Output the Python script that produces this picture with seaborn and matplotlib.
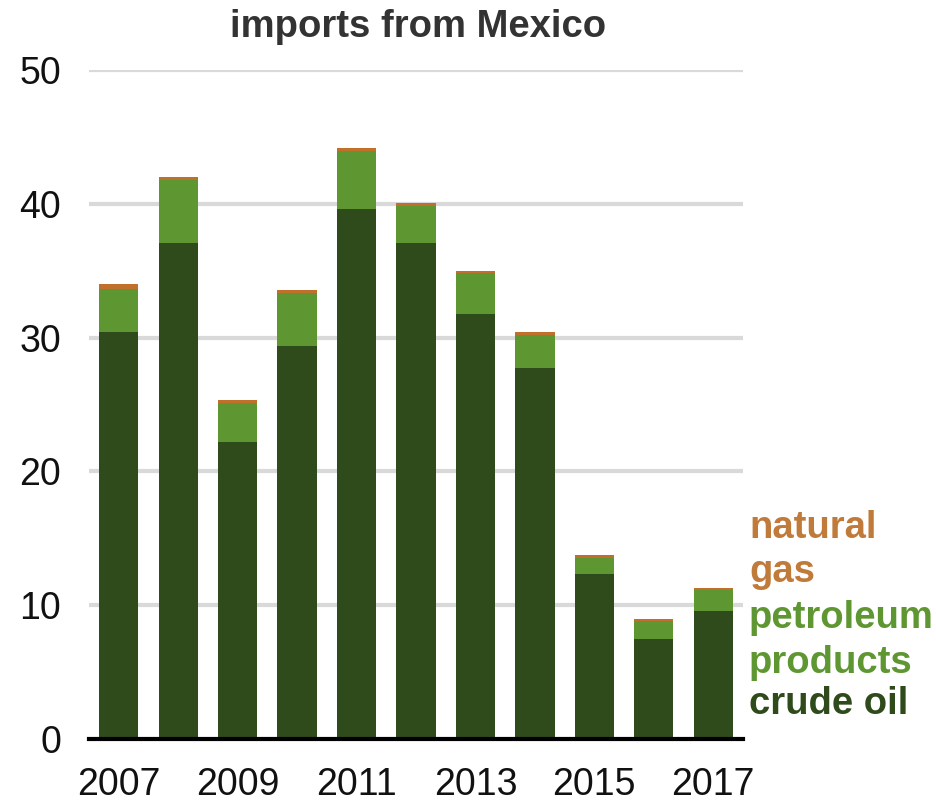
import matplotlib
matplotlib.use("Agg")
import matplotlib.pyplot as plt
import seaborn as sns
import pandas as pd
import numpy as np

years = [2007, 2008, 2009, 2010, 2011, 2012, 2013, 2014, 2015, 2016, 2017]
crude_oil = [30.4, 37.1, 22.2, 29.4, 39.6, 37.1, 31.8, 27.7, 12.3, 7.5, 9.6]
petroleum_products = [3.2, 4.7, 2.9, 3.9, 4.35, 2.75, 3.0, 2.5, 1.25, 1.3, 1.5]
natural_gas = [0.4, 0.2, 0.2, 0.25, 0.25, 0.2, 0.2, 0.2, 0.2, 0.2, 0.2]
tick_labels = ["2007", "", "2009", "", "2011", "", "2013", "", "2015", "", "2017"]

C_CRUDE = "#2f4b1c"
C_PETRO = "#5e9732"
C_GAS = "#c0702a"

sns.set_style("white")
plt.rcParams["font.family"] = ["Liberation Sans", "DejaVu Sans"]

df = pd.DataFrame({
    "year": [str(y) for y in years],
    "crude": crude_oil,
    "petro": petroleum_products,
    "gas": natural_gas,
})
df["lvl_petro"] = df["crude"] + df["petro"]
df["lvl_gas"] = df["lvl_petro"] + df["gas"]

fig = plt.figure(figsize=(9.36, 8.02), dpi=100)
ax = fig.add_axes([89 / 936, 1 - 739 / 802, (743 - 89) / 936, (739 - 70) / 802])

# stacked bars drawn as overlapping cumulative totals
for col, color in [("lvl_gas", C_GAS), ("lvl_petro", C_PETRO), ("crude", C_CRUDE)]:
    sns.barplot(data=df, x="year", y=col, color=color, width=0.66,
                saturation=1, linewidth=0, edgecolor="none", ax=ax, zorder=3)

ax.set_ylim(0, 50)
ax.set_xlim(-0.5, len(years) - 0.5)
ax.set_yticks([0, 10, 20, 30, 40, 50])
ax.set_yticklabels(["0", "10", "20", "30", "40", "50"])
ax.set_xticks(range(len(years)))
ax.set_xticklabels(tick_labels)
ax.set_xlabel("")
ax.set_ylabel("")
ax.tick_params(axis="both", length=0, labelsize=27, colors="#111111")
ax.tick_params(axis="y", pad=20)
ax.tick_params(axis="x", pad=20)

for y in [10, 20, 30, 40, 50]:
    ax.axhline(y, color="#d9d9d9", lw=3, zorder=1)

for s in ["top", "right", "left"]:
    ax.spines[s].set_visible(False)
ax.spines["bottom"].set_color("black")
ax.spines["bottom"].set_linewidth(3)
ax.spines["bottom"].set_zorder(5)

fig.text(418 / 936, 1 - 37 / 802, "imports from Mexico", ha="center",
         va="baseline", fontsize=27.5, fontweight="bold", color="#333333")

legend_items = [
    ("natural", 538, "#c07a3a"),
    ("gas", 582, "#c07a3a"),
    ("petroleum", 628, C_PETRO),
    ("products", 673, C_PETRO),
    ("crude oil", 714, C_CRUDE),
]
for txt, yb, col in legend_items:
    fig.text(749 / 936, 1 - yb / 802, txt, ha="left", va="baseline",
             fontsize=27.5, fontweight="bold", color=col)

fig.savefig("out.png", dpi=100)
